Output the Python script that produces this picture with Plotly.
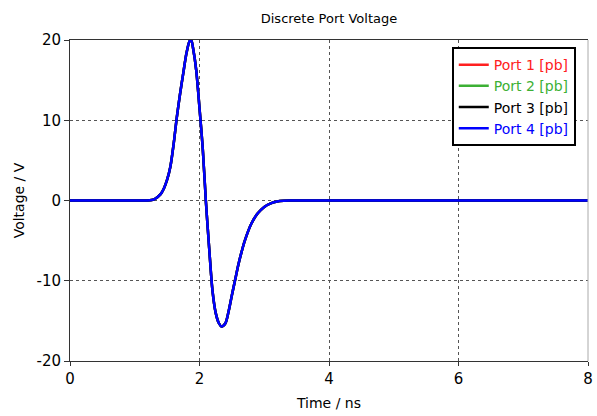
import plotly.graph_objects as go

# Time (ns) and voltage (V)
time_ns = [0.0, 1.0, 1.2, 1.3, 1.4, 1.45, 1.5, 1.55, 1.6, 1.65, 1.7, 1.75, 1.8, 1.85,
           1.875, 1.9, 1.95, 2.0, 2.05, 2.1, 2.15, 2.2, 2.25, 2.3, 2.34, 2.4, 2.45,
           2.5, 2.55, 2.6, 2.65, 2.7, 2.8, 2.9, 3.0, 3.1, 3.2, 3.3, 3.4, 8.0]
voltage = [0.0, 0.0, 0.0, 0.15, 0.8, 1.5, 2.6, 4.2, 7.0, 10.4, 13.3, 15.9, 18.4, 19.9,
           19.9, 19.0, 16.2, 11.5, 6.5, -0.3, -6.0, -11.2, -14.0, -15.3, -15.7, -15.3,
           -13.8, -11.8, -9.9, -8.0, -6.4, -5.0, -2.9, -1.6, -0.8, -0.35, -0.12, -0.03,
           0.0, 0.0]

series_names = ["Port 1 [pb]", "Port 2 [pb]", "Port 3 [pb]", "Port 4 [pb]"]
series_colors = ["#ff2020", "#3cb034", "#000000", "#0000ff"]
series_values = [voltage, voltage, voltage, voltage]

x_ticks = [0, 2, 4, 6, 8]
y_ticks = [-20, -10, 0, 10, 20]

FONT = "DejaVu Sans"

fig = go.Figure()
for name, color, vals in zip(series_names, series_colors, series_values):
    fig.add_trace(go.Scatter(
        x=time_ns, y=vals, mode="lines",
        name=f"<span style='color:{color}'>{name}</span>",
        line=dict(color=color, width=2.5, shape="spline", smoothing=0.8),
    ))

fig.update_layout(
    width=597, height=416,
    margin=dict(l=70, r=9, t=40, b=55),
    paper_bgcolor="white", plot_bgcolor="white",
    font=dict(family=FONT, size=13, color="black"),
    title=dict(text="Discrete Port Voltage", x=329 / 597, xanchor="center",
               y=1 - 18 / 416, yanchor="middle", font=dict(size=13, family=FONT)),
    showlegend=True,
    legend=dict(
        x=0.737, y=0.978, xanchor="left", yanchor="top",
        bgcolor="white", bordercolor="black", borderwidth=2,
        font=dict(size=14, family=FONT), itemwidth=30,
        tracegroupgap=0,
    ),
)

fig.update_xaxes(
    range=[0, 8], tickvals=x_ticks, ticktext=[str(v) for v in x_ticks],
    title=dict(text="Time / ns", font=dict(size=14), standoff=11),
    showgrid=True, gridcolor="#555555", griddash="dot", gridwidth=1,
    zeroline=False, showline=True, linecolor="#333333", linewidth=1, mirror=True,
    ticks="outside", ticklen=4, tickcolor="#333333", tickfont=dict(size=15),
    automargin=False,
)
fig.update_yaxes(
    range=[-20, 20], tickvals=y_ticks, ticktext=[str(v) for v in y_ticks],
    title=dict(text="Voltage / V", font=dict(size=14), standoff=8),
    showgrid=True, gridcolor="#555555", griddash="dot", gridwidth=1,
    zeroline=False, showline=True, linecolor="#333333", linewidth=1,
    ticks="outside", ticklen=5, tickcolor="#333333", tickfont=dict(size=15),
    automargin=False,
)

# lighter right frame edge
fig.add_shape(type="line", xref="paper", yref="paper", x0=1, x1=1, y0=0, y1=1,
              line=dict(color="#aaaaaa", width=1))

fig.write_html("out.html", config={"displayModeBar": False},
               post_script="document.body.style.margin='0';document.body.style.padding='0';")
